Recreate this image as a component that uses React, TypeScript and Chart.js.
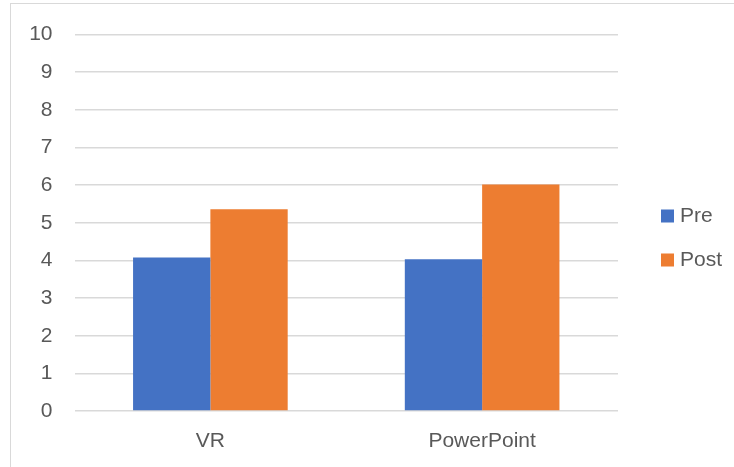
import React, { useEffect, useRef } from 'react';
import { Chart, registerables } from 'chart.js';

Chart.register(...registerables);

const categories = ['VR', 'PowerPoint'];
const seriesNames = ['Pre', 'Post'];
const preValues = [4.08, 4.03];
const postValues = [5.36, 6.02];
const yMin = 0;
const yMax = 10;
const yStep = 1;

const FONT = "'Liberation Sans', Arial, sans-serif";
const TEXT = '#595959';
const GRID = '#d9d9d9';
const COLORS = ['#4472C4', '#ED7D31'];

const sideLegend = {
  id: 'sideLegend',
  afterDraw(chart: any) {
    const ctx = chart.ctx;
    const boxX = 661;
    const textX = 680;
    const ys = [216, 260];
    chart.data.datasets.forEach((ds: any, i: number) => {
      ctx.save();
      ctx.fillStyle = ds.backgroundColor;
      ctx.fillRect(boxX, ys[i] - 6.5, 13, 13);
      ctx.fillStyle = TEXT;
      ctx.font = `21px ${FONT}`;
      ctx.textBaseline = 'middle';
      ctx.textAlign = 'left';
      ctx.fillText(ds.label, textX, ys[i] + 0.5);
      ctx.restore();
    });
  },
};

export default function App() {
  const ref = useRef<HTMLCanvasElement | null>(null);

  useEffect(() => {
    if (!ref.current) return;
    const chart = new Chart(ref.current, {
      type: 'bar',
      data: {
        labels: categories,
        datasets: [
          { label: seriesNames[0], data: preValues, backgroundColor: COLORS[0], borderWidth: 0 },
          { label: seriesNames[1], data: postValues, backgroundColor: COLORS[1], borderWidth: 0 },
        ],
      },
      options: {
        animation: false,
        responsive: true,
        maintainAspectRatio: false,
        layout: { padding: { left: 0, top: 33, right: 116, bottom: 0 } },
        datasets: { bar: { categoryPercentage: 0.569, barPercentage: 1 } },
        plugins: {
          legend: { display: false },
          tooltip: { enabled: false },
        },
        scales: {
          x: {
            grid: { display: false, drawTicks: false },
            border: { display: false },
            ticks: { color: TEXT, font: { family: FONT, size: 21 }, padding: 18 },
            afterFit: (s: any) => { s.height = 56; },
          },
          y: {
            min: yMin,
            max: yMax,
            grid: { color: GRID, lineWidth: 1.5, drawTicks: false },
            border: { display: false },
            ticks: { stepSize: yStep, color: TEXT, font: { family: FONT, size: 21 }, padding: 22 },
            afterFit: (s: any) => { s.width = 74.5; },
          },
        },
      },
      plugins: [sideLegend],
    });
    return () => chart.destroy();
  }, []);

  return (
    <>
      <div
        style={{
          position: 'fixed',
          left: 10,
          top: 3,
          width: 724,
          height: 464,
          borderLeft: `1px solid ${GRID}`,
          borderTop: `1px solid ${GRID}`,
          boxSizing: 'border-box',
        }}
      />
      <div style={{ position: 'fixed', left: 0, top: 0, width: 734, height: 467 }}>
        <canvas ref={ref} />
      </div>
    </>
  );
}
